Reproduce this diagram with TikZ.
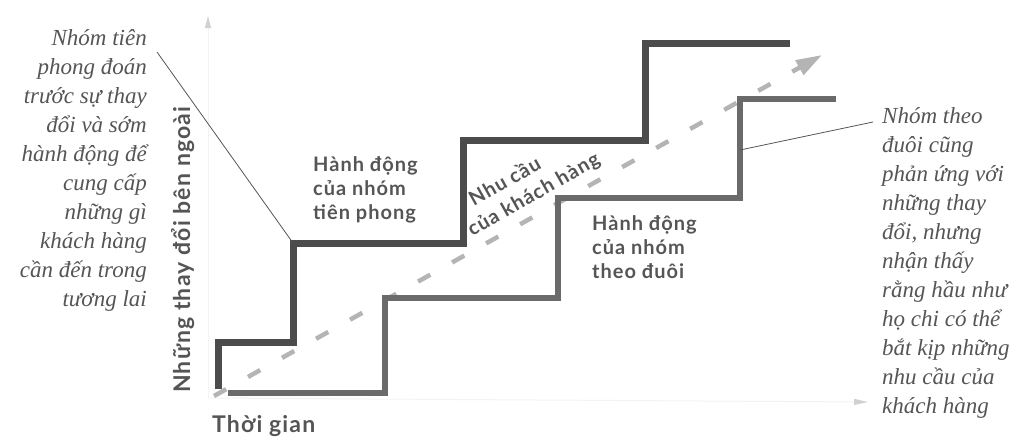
\documentclass[tikz,border=0pt]{standalone}
\usepackage{fontspec}
\setmainfont{Liberation Serif}
\newfontfamily\labfont{Lato}[LetterSpace=5]
\usetikzlibrary{arrows.meta}
\definecolor{leadgray}{HTML}{4C4C4C}
\definecolor{followgray}{HTML}{6A6A6A}
\definecolor{needgray}{HTML}{B4B4B4}
\definecolor{inkgray}{HTML}{555555}
\definecolor{axisgray}{HTML}{F3F3F3}
\tikzset{
  leadstair/.style={draw=leadgray, line width=7pt, miter limit=10},
  followstair/.style={draw=followgray, line width=6pt, miter limit=10},
  needline/.style={draw=needgray, line width=4.5pt, dash pattern=on 14pt off 25pt,
    -{Triangle[length=26pt, width=16pt]}},
  axisline/.style={draw=axisgray, line width=1pt},
  note/.style={inner sep=0pt, text=inkgray, font=\fontsize{23}{29}\selectfont\itshape},
  steplabel/.style={inner sep=0pt, text=inkgray, align=left,
    font=\labfont\bfseries\fontsize{20}{24}\selectfont},
  axislabel/.style={inner sep=0pt, text=inkgray, font=\labfont\bfseries\fontsize{23}{26}\selectfont},
  pointer/.style={draw=inkgray, line width=0.8pt}
}
\begin{document}
\begin{tikzpicture}[x=1pt, y=-1pt]
\useasboundingbox (0,0) rectangle (1027,437);

% faint axes
\coordinate (origin) at (208,398);
\coordinate (ytop) at (208,16);
\coordinate (xend) at (868,402);
\draw[axisline, -{Triangle[length=12pt, width=6pt, color=black!18]}] (origin) -- (ytop);
\draw[axisline, -{Triangle[length=14pt, width=6pt, color=black!18]}] (origin) -- (xend);

% customer need trend
\coordinate (needstart) at (214,396);
\coordinate (needend) at (822,55);
\draw[needline] (needstart) -- (needend);

% leader staircase
\draw[leadstair] (218,389) -- (218,342) -- (293,342) -- (293,243) coordinate (leadcorner)
  -- (463,243) -- (463,140) -- (645,140) -- (645,43) -- (790,43);

% follower staircase
\draw[followstair] (228,393) -- (385,393) -- (385,298) -- (558,298) -- (558,198)
  -- (740,198) -- (740,99) -- (836,99);
\coordinate (followmid) at (740,150);

% step labels
\node[steplabel, anchor=north west] (leadlab) at (313,156) {Hành động\\của nhóm\\tiên phong};
\node[steplabel, anchor=north west] (followlab) at (592,215) {Hành động\\của nhóm\\theo đuôi};
\node[steplabel, anchor=south west, rotate=29.5, font=\labfont\bfseries\fontsize{20}{25}\selectfont]
  (needlab) at (474,240) {\hspace*{16pt}Nhu cầu\\của khách hàng};

% axis labels
\node[axislabel, anchor=base west, rotate=90] (ylab) at (190,393) {Những thay đổi bên ngoài};
\node[axislabel, anchor=base west] (xlab) at (212,432) {Thời gian};

% side notes
\node[note, anchor=north east, align=right] (leftnote) at (147,29)
  {Nhóm tiên\\phong đoán\\trước sự thay\\đổi và sớm\\hành động để\\cung cấp\\những gì\\khách hàng\\cần đến trong\\tương lai};
\node[note, anchor=north west, align=left] (rightnote) at (882,107)
  {Nhóm theo\\đuôi cũng\\phản ứng với\\những thay\\đổi, nhưng\\nhận thấy\\rằng hầu như\\họ chi có thể\\bắt kịp những\\nhu cầu của\\khách hàng};

% pointers from notes to staircases
\coordinate (lefttip) at (157,52);
\coordinate (righttip) at (873,122);
\draw[pointer] (lefttip) -- (leadcorner);
\draw[pointer] (righttip) -- (followmid);
\end{tikzpicture}
\end{document}
